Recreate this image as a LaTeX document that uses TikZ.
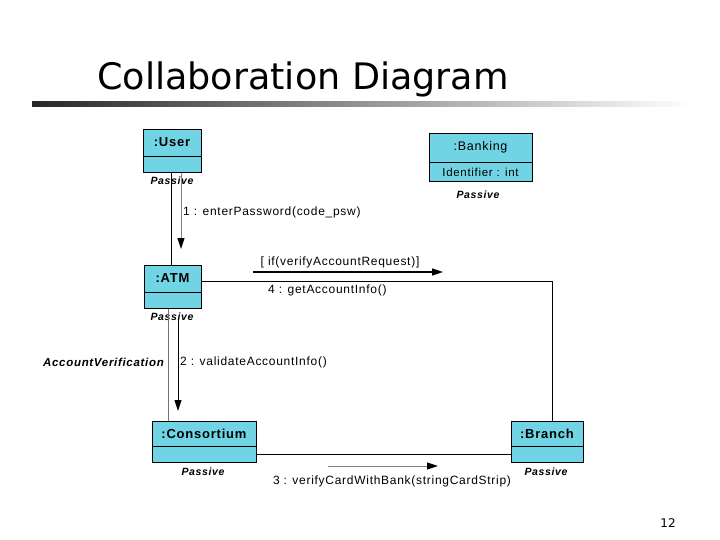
\documentclass[tikz,border=0pt]{standalone}
\usepackage{fontspec}
\setmainfont{Liberation Sans}
\newfontfamily\titlefont{DejaVu Sans}
\newfontfamily\diagfont[LetterSpace=6]{Liberation Sans}
\usetikzlibrary{arrows.meta,calc}
\definecolor{boxfill}{RGB}{112,212,228}
\begin{document}
\begin{tikzpicture}[x=1pt,y=-1pt,
  namebox/.style={draw=black, line width=0.8pt, fill=boxfill, inner sep=0pt,
    font=\diagfont\fontsize{13}{15}\selectfont\bfseries},
  lowbox/.style={draw=black, line width=0.8pt, fill=boxfill, inner sep=0pt,
    font=\diagfont\fontsize{11.5}{13}\selectfont},
  passive/.style={inner sep=0pt, font=\diagfont\fontsize{10.5}{12}\selectfont\bfseries\itshape},
  lbl/.style={inner sep=0pt, font=\diagfont\fontsize{12}{14}\selectfont},
  bilbl/.style={inner sep=0pt, font=\diagfont\fontsize{11.5}{13}\selectfont\bfseries\itshape},
  link/.style={draw=black, line width=0.9pt},
  msg/.style={line width=1pt, -{Triangle[length=11pt,width=7pt,color=black]}}]
\useasboundingbox (0,0) rectangle (720,540);
\fill[white] (0,0) rectangle (720,540);
% title
\node[anchor=base west, inner sep=0pt, font=\titlefont\fontsize{36.5}{40}\selectfont] (title) at (97,90) {Collaboration Diagram};
\shade[left color=black!85, right color=white] (32,102) rectangle (690,107);
\node[inner sep=0pt, font=\titlefont\fontsize{12}{14}\selectfont] (pnum) at (668,523) {12};
% boxes
\node[namebox, minimum width=58pt, minimum height=27pt] (user) at (172,142.5) {:User};
\node[lowbox, minimum width=58pt, minimum height=16pt, anchor=north] (userb) at (user.south) {};
\node[passive] (userp) at (172,181) {Passive};

\node[namebox, minimum width=103pt, minimum height=29pt, font=\diagfont\fontsize{12.5}{14}\selectfont] (bank) at (480.5,147.5) {:Banking};
\node[lowbox, minimum width=103pt, minimum height=19pt, anchor=north] (bankb) at (bank.south) {Identifier : int};
\node[passive] (bankp) at (478,195) {Passive};

\node[namebox, minimum width=57pt, minimum height=27pt] (atm) at (172.5,278.5) {:ATM};
\node[lowbox, minimum width=57pt, minimum height=16pt, anchor=north] (atmb) at (atm.south) {};
\node[passive] (atmp) at (172,317) {Passive};

\node[namebox, minimum width=104pt, minimum height=25pt] (cons) at (204,433.5) {:Consortium};
\node[lowbox, minimum width=104pt, minimum height=16pt, anchor=north] (consb) at (cons.south) {};
\node[passive] (consp) at (203,472) {Passive};

\node[namebox, minimum width=72pt, minimum height=25pt] (branch) at (547,433.5) {:Branch};
\node[lowbox, minimum width=72pt, minimum height=16pt, anchor=north] (branchb) at (branch.south) {};
\node[passive] (branchp) at (546,472) {Passive};
% links
\draw[link] ([xshift=-1pt]userb.south) -- ([xshift=-1pt]userb.south |- atm.north);
\draw[link, draw=black!55] ([xshift=-4.5pt]atmb.south) -- ([xshift=-4.5pt]atmb.south |- cons.north);
\draw[link] ([yshift=-2.5pt]atm.east) -| ([xshift=5pt]branch.north);
\draw[link] (consb.east) -- (branchb.west);
% messages
\coordinate (m1b) at (181,249);
\draw[msg, draw=black!50] ([xshift=9pt]userb.south) -- (m1b);
\node[lbl, anchor=west] (l1) at (183,212) {1 : enterPassword(code\_psw)};

\coordinate (m2a) at (178,320);
\coordinate (m2b) at (178,411);
\draw[msg, draw=black] (m2a) -- (m2b);
\node[lbl, anchor=west] (l2) at (180,362) {2 : validateAccountInfo()};
\node[bilbl, anchor=east] (av) at (164,362) {AccountVerification};

\coordinate (ga) at (253,272);
\coordinate (gb) at (443,272);
\draw[msg, draw=black, line width=1.6pt] (ga) -- (gb);
\node[lbl] (guard) at (340,262) {[ if(verifyAccountRequest)]};
\node[lbl, anchor=west] (l4) at (268,290) {4 : getAccountInfo()};

\coordinate (m3a) at (328,466);
\coordinate (m3b) at (438,466);
\draw[msg, draw=black!50] (m3a) -- (m3b);
\node[lbl] (l3) at (392,481) {3 : verifyCardWithBank(stringCardStrip)};
\end{tikzpicture}
\end{document}
